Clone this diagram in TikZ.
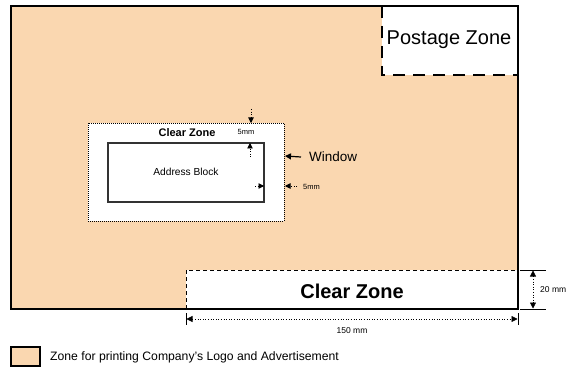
\documentclass[tikz,border=0pt]{standalone}
\usepackage{fontspec}
\setmainfont{Liberation Sans}
\usetikzlibrary{arrows.meta}
\definecolor{peach}{RGB}{250,215,176}
\begin{document}
\begin{tikzpicture}[x=1pt,y=-1pt,
  lbl/.style={inner sep=0pt, font=\fontsize{#1}{#1}\selectfont},
  dimarrow/.style={dotted, line width=0.6pt, -{Triangle[length=5.5pt,width=5.5pt]}},
  dimboth/.style={dotted, line width=0.6pt, {Triangle[length=6pt,width=6pt]}-{Triangle[length=6pt,width=6pt]}},
  tick/.style={line width=0.8pt}]
\useasboundingbox (0,0) rectangle (567,374);
% envelope
\coordinate (envTL) at (11,6);
\coordinate (envBR) at (518,309);
\fill[peach] (envTL) rectangle (envBR);
% postage zone
\coordinate (pzTL) at (382,6);
\coordinate (pzBR) at (518,75);
\fill[white] (pzTL) rectangle (pzBR);
\draw[line width=1.5pt, dash pattern=on 12pt off 8pt] (382,6) -- (382,75) -- (518,75);
\node[lbl=20] (pz) at (449,40) {Postage Zone};
% bottom clear zone
\coordinate (czTL) at (186,270);
\fill[white] (czTL) rectangle (envBR);
\draw[line width=0.8pt, dash pattern=on 4pt off 3pt] (186,309) -- (186,270) -- (518,270);
\node[lbl=20, font=\fontsize{20}{20}\selectfont\bfseries] (cz) at (352,291) {Clear Zone};
% envelope border
\draw[line width=1.5pt] (envTL) rectangle (envBR);
% window
\coordinate (winTL) at (88,123);
\coordinate (winBR) at (284,221);
\draw[fill=white, line width=0.7pt, dash pattern=on 1pt off 1pt] (winTL) rectangle (winBR);
\node[lbl=11, font=\fontsize{11}{11}\selectfont\bfseries] (wcz) at (187,133) {Clear Zone};
% address block
\coordinate (abTL) at (108,143);
\coordinate (abBR) at (264,202);
\draw[fill=white, draw=black!80, line width=1.2pt] (abTL) rectangle (abBR);
\node[lbl=10.2] (ab) at (186,172) {Address Block};
% 5mm top
\coordinate (t1) at (251,109);
\coordinate (t2) at (251,123);
\draw[dimarrow] (t1) -- (t2);
\coordinate (t3) at (250,157);
\coordinate (t4) at (250,143);
\draw[dimarrow] (t3) -- (t4);
\node[lbl=7.5] (fm1) at (246,132) {5mm};
% 5mm right
\coordinate (r1) at (255,186);
\coordinate (r2) at (264,186);
\draw[dimarrow] (r1) -- (r2);
\coordinate (r3) at (297,186);
\coordinate (r4) at (285,186);
\draw[dimarrow] (r3) -- (r4);
\node[lbl=7.5, anchor=west] (fm2) at (303,187) {5mm};
% window label
\node[lbl=13.5, anchor=west] (win) at (309,157) {Window};
\coordinate (w1) at (285,156);
\draw[line width=1.2pt, -{Triangle[length=6pt,width=6pt]}] (win.west) ++(-8,0) -- (w1);
% 20 mm dimension
\coordinate (d1a) at (520,270);
\coordinate (d1b) at (546,270);
\coordinate (d2a) at (520,309);
\coordinate (d2b) at (546,309);
\draw[tick] (d1a) -- (d1b);
\draw[tick] (d2a) -- (d2b);
\coordinate (v1) at (533,270.5);
\coordinate (v2) at (533,308.5);
\draw[dimboth] (v1) -- (v2);
\node[lbl=8.5, anchor=west] (tw) at (540,290) {20 mm};
% 150 mm dimension
\coordinate (h1a) at (186,313);
\coordinate (h1b) at (186,325);
\coordinate (h2a) at (518,313);
\coordinate (h2b) at (518,325);
\draw[tick] (h1a) -- (h1b);
\draw[tick] (h2a) -- (h2b);
\coordinate (hh1) at (186.5,319);
\coordinate (hh2) at (517.5,319);
\draw[dimboth] (hh1) -- (hh2);
\node[lbl=8.5] (ofm) at (352,331) {150 mm};
% legend
\coordinate (lgTL) at (11,347);
\coordinate (lgBR) at (40,366);
\draw[fill=peach, line width=1.2pt] (lgTL) rectangle (lgBR);
\node[lbl=12.2, anchor=west] (lg) at (50,357) {Zone for printing Company’s Logo and Advertisement};
\end{tikzpicture}
\end{document}
